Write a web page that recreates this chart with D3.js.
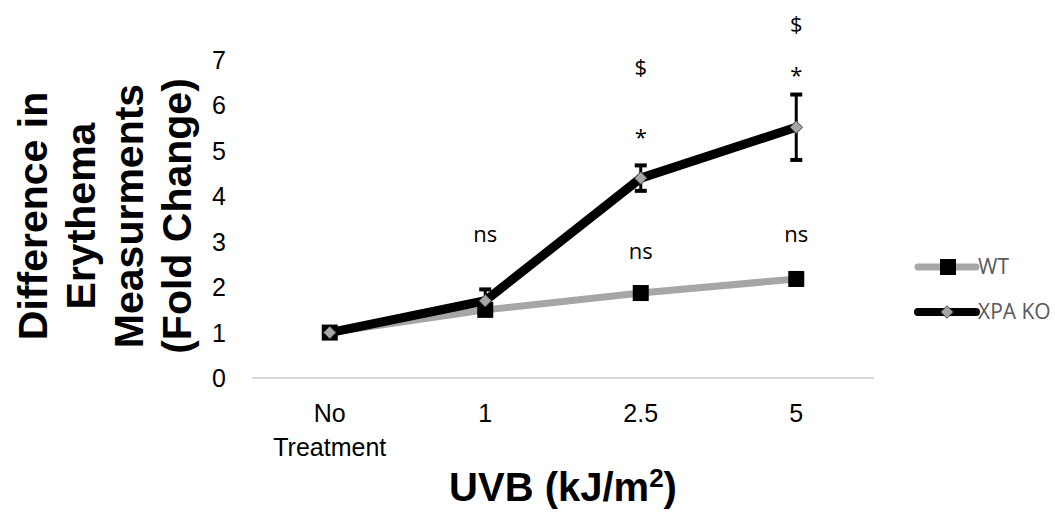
<!DOCTYPE html>
<html>
<head>
<meta charset="utf-8">
<script src="https://d3js.org/d3.v7.min.js"></script>
<style>
  body { margin: 0; background: #fff; }
</style>
</head>
<body>
<script>
var categories = ["No Treatment", "1", "2.5", "5"];
var wtValues = [1.0, 1.5, 1.87, 2.18];
var xpaValues = [1.0, 1.7, 4.4, 5.52];
var xpaErrors = [0.12, 0.25, 0.28, 0.72];
var yTicks = [0, 1, 2, 3, 4, 5, 6, 7];
var seriesNames = ["WT", "XPA KO"];
// significance marks: category index, value height, text
var marks = [
  { c: 1, v: 3.0, t: "ns" },
  { c: 2, v: 2.62, t: "ns" },
  { c: 3, v: 3.0, t: "ns" },
  { c: 2, v: 5.13, t: "*" },
  { c: 2, v: 6.67, t: "$" },
  { c: 3, v: 6.49, t: "*" },
  { c: 3, v: 7.62, t: "$" }
];

var w = 1055, h = 519;
var svg = d3.select("body").append("svg")
  .attr("width", w).attr("height", h);

var x = d3.scaleBand().domain(categories).range([252, 874]);
var y = d3.scaleLinear().domain([0, 7]).range([378, 60]);
var cx = function(i) { return x(categories[i]) + x.bandwidth() / 2; };

// x axis line
svg.append("line")
  .attr("x1", x.range()[0]).attr("x2", x.range()[1])
  .attr("y1", y(0)).attr("y2", y(0))
  .attr("stroke", "#d9d9d9").attr("stroke-width", 2);

// y tick labels
svg.selectAll("text.ytick")
  .data(yTicks).enter().append("text")
  .attr("class", "ytick")
  .attr("x", 226)
  .attr("y", function(d) { return y(d); })
  .attr("dy", "0.36em")
  .attr("text-anchor", "end")
  .attr("font-family", "Liberation Sans, Arial, sans-serif")
  .attr("font-size", "25px")
  .attr("fill", "#000")
  .text(function(d) { return d; });

// x category labels
var xl = svg.selectAll("text.xtick")
  .data(categories).enter().append("text")
  .attr("class", "xtick")
  .attr("text-anchor", "middle")
  .attr("font-family", "Liberation Sans, Arial, sans-serif")
  .attr("font-size", "25px")
  .attr("fill", "#000");
xl.each(function(d, i) {
  var words = d.split(" ");
  var t = d3.select(this);
  words.forEach(function(wd, j) {
    t.append("tspan")
      .attr("x", cx(i))
      .attr("y", 422 + j * 34)
      .text(wd);
  });
});

// axis titles
svg.append("text")
  .attr("x", x.range()[0] / 2 + x.range()[1] / 2)
  .attr("y", 501)
  .attr("text-anchor", "middle")
  .attr("font-family", "Liberation Sans, Arial, sans-serif")
  .attr("font-weight", "bold")
  .attr("font-size", "40px")
  .html('UVB (kJ/m<tspan dy="-14" font-size="26px">2</tspan><tspan dy="14">)</tspan>');

var yTitle = ["Difference in", "Erythema", "Measurments", "(Fold Change)"];
var yt = svg.append("g").attr("transform", "translate(47,216) rotate(-90)");
yt.selectAll("text").data(yTitle).enter().append("text")
  .attr("x", 0)
  .attr("y", function(d, i) { return i * 48; })
  .attr("text-anchor", "middle")
  .attr("font-family", "Liberation Sans, Arial, sans-serif")
  .attr("font-weight", "bold")
  .attr("font-size", "41px")
  .text(function(d) { return d; });

var line = d3.line()
  .x(function(d, i) { return cx(i); })
  .y(function(d) { return y(d); });

// WT series
svg.append("path").datum(wtValues)
  .attr("d", line)
  .attr("fill", "none").attr("stroke", "#a6a6a6").attr("stroke-width", 7)
  .attr("stroke-linejoin", "round");
svg.selectAll("rect.wt").data(wtValues).enter().append("rect")
  .attr("class", "wt")
  .attr("x", function(d, i) { return cx(i) - 8; })
  .attr("y", function(d) { return y(d) - 8; })
  .attr("width", 16).attr("height", 16)
  .attr("fill", "#000");

// XPA KO series
svg.append("path").datum(xpaValues)
  .attr("d", line)
  .attr("fill", "none").attr("stroke", "#000").attr("stroke-width", 9)
  .attr("stroke-linejoin", "round");

var eb = svg.selectAll("g.err").data(xpaValues).enter().append("g").attr("class", "err");
eb.append("line")
  .attr("x1", function(d, i) { return cx(i); })
  .attr("x2", function(d, i) { return cx(i); })
  .attr("y1", function(d, i) { return y(d + xpaErrors[i]); })
  .attr("y2", function(d, i) { return y(d - xpaErrors[i]); })
  .attr("stroke", "#000").attr("stroke-width", 3);
[1, -1].forEach(function(s) {
  eb.append("line")
    .attr("x1", function(d, i) { return cx(i) - 6; })
    .attr("x2", function(d, i) { return cx(i) + 6; })
    .attr("y1", function(d, i) { return y(d + s * xpaErrors[i]); })
    .attr("y2", function(d, i) { return y(d + s * xpaErrors[i]); })
    .attr("stroke", "#000").attr("stroke-width", 4);
});

var diamond = d3.symbol().type(d3.symbolDiamond2).size(100);
svg.selectAll("path.xpa").data(xpaValues).enter().append("path")
  .attr("class", "xpa")
  .attr("d", diamond)
  .attr("transform", function(d, i) { return "translate(" + cx(i) + "," + y(d) + ")"; })
  .attr("fill", "#a6a6a6").attr("stroke", "#404040").attr("stroke-width", 1);

// significance marks
svg.selectAll("text.mark").data(marks).enter().append("text")
  .attr("class", "mark")
  .attr("x", function(d) { return cx(d.c); })
  .attr("y", function(d) { return y(d.v); })
  .attr("text-anchor", "middle")
  .attr("font-family", "Open Sans, Noto Sans, sans-serif")
  .attr("font-size", "22px")
  .attr("fill", "#000")
  .text(function(d) { return d.t; });

// legend
var leg = svg.selectAll("g.leg").data(seriesNames).enter().append("g")
  .attr("class", "leg")
  .attr("transform", function(d, i) { return "translate(918," + (267 + i * 45) + ")"; });
leg.append("line")
  .attr("x1", 0).attr("x2", 58).attr("y1", 0).attr("y2", 0)
  .attr("stroke", function(d, i) { return i === 0 ? "#a6a6a6" : "#000"; })
  .attr("stroke-width", function(d, i) { return i === 0 ? 7 : 8; })
  .attr("stroke-linecap", "round");
leg.filter(function(d, i) { return i === 0; }).append("rect")
  .attr("x", 34).attr("y", -8).attr("width", 16).attr("height", 16).attr("fill", "#000")
  .attr("transform", "translate(-12,0)");
leg.filter(function(d, i) { return i === 1; }).append("path")
  .attr("d", diamond)
  .attr("transform", "translate(29,0)")
  .attr("fill", "#a6a6a6").attr("stroke", "#404040").attr("stroke-width", 1);
leg.append("text")
  .attr("x", 60).attr("y", 0).attr("dy", "0.35em")
  .attr("font-family", "Open Sans, Noto Sans, sans-serif")
  .attr("font-size", "21px")
  .attr("fill", "#595959")
  .text(function(d) { return d; });
</script>
</body>
</html>
